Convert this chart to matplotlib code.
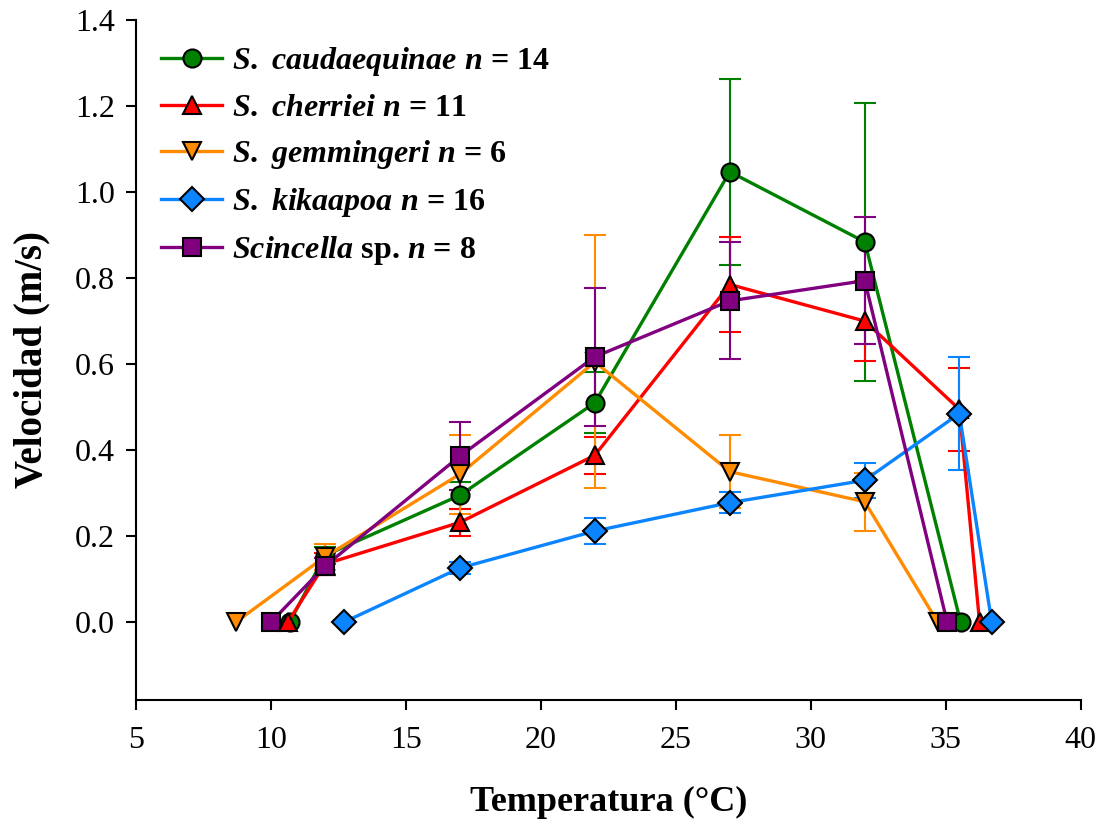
import numpy as np
import matplotlib
matplotlib.use("Agg")
from matplotlib import pyplot as plt

plt.rcParams['font.family'] = ['Liberation Serif', 'DejaVu Serif']
plt.rcParams['mathtext.fontset'] = 'custom'
plt.rcParams['mathtext.it'] = 'Liberation Serif:italic:bold'
plt.rcParams['mathtext.rm'] = 'Liberation Serif:bold'

# S. caudaequinae
t_cau = [10.7, 12, 17, 22, 27, 32, 35.55]
v_cau = [0, 0.155, 0.295, 0.51, 1.047, 0.884, 0]
e_cau = [0, 0.02, 0.032, 0.071, 0.216, 0.324, 0]

# S. cherriei
t_che = [10.63, 12, 17, 22, 27, 32, 35.5, 36.25]
v_che = [0, 0.135, 0.232, 0.388, 0.785, 0.70, 0.495, 0]
e_che = [0, 0.025, 0.032, 0.043, 0.111, 0.093, 0.097, 0]

# S. gemmingeri
t_gem = [8.7, 12, 17, 22, 27, 32, 34.7]
v_gem = [0, 0.152, 0.344, 0.605, 0.35, 0.28, 0]
e_gem = [0, 0.03, 0.092, 0.294, 0.085, 0.067, 0]

# S. kikaapoa
t_kik = [12.7, 17, 22, 27, 32, 35.5, 36.7]
v_kik = [0, 0.126, 0.212, 0.278, 0.330, 0.485, 0]
e_kik = [0, 0.015, 0.03, 0.025, 0.041, 0.132, 0]

# Scincella sp.
t_sci = [10.0, 12, 17, 22, 27, 32, 35.05]
v_sci = [0, 0.13, 0.386, 0.617, 0.747, 0.794, 0]
e_sci = [0, 0.02, 0.079, 0.16, 0.136, 0.148, 0]

series = [
    (t_cau, v_cau, e_cau, '#008000', 'o', r'$S.\ caudaequinae\ n$ = 14'),
    (t_che, v_che, e_che, '#FF0000', '^', r'$S.\ cherriei\ n$ = 11'),
    (t_gem, v_gem, e_gem, '#FF8C00', 'v', r'$S.\ gemmingeri\ n$ = 6'),
    (t_kik, v_kik, e_kik, '#0A84FF', 'D', r'$S.\ kikaapoa\ n$ = 16'),
    (t_sci, v_sci, e_sci, '#800080', 's', r'$Scincella$ sp. $n$ = 8'),
]

fig = plt.figure(figsize=(11.04, 8.3), dpi=100)
ax = fig.add_axes([0.123, 0.157, 0.856, 0.819])

handles = []
for i, (t, v, e, c, mk, lab) in enumerate(series):
    e = np.array(e)
    t = np.array(t)
    v = np.array(v)
    keep = e > 0
    ax.errorbar(t[keep], v[keep], yerr=e[keep], fmt='none', ecolor=c,
                elinewidth=1.5, capsize=8, capthick=1.5, zorder=2 + i * 0.1)
    ms = 12 if mk == 'D' else 13
    h, = ax.plot(t, v, color=c, lw=2.4, marker=mk, ms=ms, mfc=c, mec='black',
                 mew=1.5, label=lab, zorder=3 + i * 0.1)
    handles.append(h)

ax.set_xlim(5, 40)
ax.set_ylim(-0.18, 1.4)
ax.set_xticks(np.arange(5, 41, 5))
ax.set_yticks(np.arange(0, 1.41, 0.2))
ax.set_yticklabels([f"{y:.1f}" for y in np.arange(0, 1.41, 0.2)])
ax.spines['top'].set_visible(False)
ax.spines['right'].set_visible(False)
ax.spines['left'].set_linewidth(1.5)
ax.spines['bottom'].set_linewidth(1.5)
ax.tick_params(direction='out', length=7, width=1.5, labelsize=23, pad=8)
ax.tick_params(axis='x', pad=12)

ax.set_xlabel('Temperatura (°C)', fontsize=26, fontweight='bold', labelpad=22)
ax.set_ylabel('Velocidad (m/s)', fontsize=28, fontweight='bold', labelpad=18)

ax.legend(handles=handles, loc='upper left', bbox_to_anchor=(0.0, 1.0),
          frameon=False, prop={'size': 23, 'weight': 'bold'},
          handlelength=1.9, handletextpad=0.3, labelspacing=0.47,
          borderaxespad=0.4)

fig.savefig('out.png', dpi=100)
